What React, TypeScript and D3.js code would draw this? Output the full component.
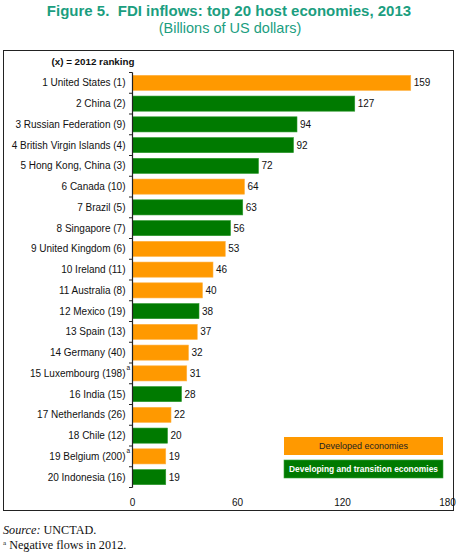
import React from "react";
import * as d3 from "d3";

const economies = [
  "1 United States (1)",
  "2 China (2)",
  "3 Russian Federation (9)",
  "4 British Virgin Islands (4)",
  "5 Hong Kong, China (3)",
  "6 Canada (10)",
  "7 Brazil (5)",
  "8 Singapore (7)",
  "9 United Kingdom (6)",
  "10 Ireland (11)",
  "11 Australia (8)",
  "12 Mexico (19)",
  "13 Spain (13)",
  "14 Germany (40)",
  "15 Luxembourg (198)",
  "16 India (15)",
  "17 Netherlands (26)",
  "18 Chile (12)",
  "19 Belgium (200)",
  "20 Indonesia (16)",
];
const inflows = [159, 127, 94, 92, 72, 64, 63, 56, 53, 46, 40, 38, 37, 32, 31, 28, 22, 20, 19, 19];
// D = developed, T = developing and transition
const groups = ["D", "T", "T", "T", "T", "D", "T", "T", "D", "D", "D", "T", "D", "D", "D", "T", "D", "T", "D", "T"];
const footnoted = ["15 Luxembourg (198)", "19 Belgium (200)"];
const xTicks = [0, 60, 120, 180];

const ORANGE = "#FF9900";
const GREEN = "#007A00";
const TEAL = "#1B9E7F";
const FONT = "Liberation Sans, Arial, sans-serif";
const SERIF = "Liberation Serif, Times New Roman, serif";

const App: React.FC = () => {
  const width = 460;
  const height = 560;

  const x = d3.scaleLinear().domain([0, 180]).range([132.5, 447.5]);
  const y = d3.scaleBand<string>().domain(economies).range([72.5, 487.5]).paddingInner(0.27).paddingOuter(0.135);
  const step = y.step();
  const boundaries = d3.range(economies.length + 1).map((i) => 72.5 + i * step);

  return (
    <svg
      width={width}
      height={height}
      style={{ position: "absolute", left: 0, top: 0, background: "#fff" }}
      fontFamily={FONT}
    >
      {/* title */}
      <text x={229} y={16} textAnchor="middle" fontSize={15} fontWeight="bold" fill={TEAL}>
        Figure 5.{"\u00a0\u00a0"}FDI inflows: top 20 host economies, 2013
      </text>
      <text x={230} y={33} textAnchor="middle" fontSize={14.5} fill={TEAL}>
        (Billions of US dollars)
      </text>

      {/* frame */}
      <rect x={3.5} y={50.5} width={450} height={460} fill="none" stroke="#222" strokeWidth={1} />

      <text x={93} y={65} textAnchor="middle" fontSize={9.8} fontWeight="bold" fill="#111">
        (x) = 2012 ranking
      </text>

      {/* bars */}
      {economies.map((name, i) => {
        const color = groups[i] === "D" ? ORANGE : GREEN;
        const yy = y(name)!;
        return (
          <g key={name}>
            <rect
              x={x(0)}
              y={yy}
              width={x(inflows[i]) - x(0)}
              height={y.bandwidth()}
              fill={color}
              stroke={groups[i] === "D" ? "#FFB347" : "#2E9A2E"}
              strokeWidth={0.6}
            />
            <text
              x={x(inflows[i]) + 3}
              y={yy + y.bandwidth() / 2}
              dy="0.35em"
              fontSize={10}
              fill="#111"
            >
              {inflows[i]}
            </text>
            <text
              x={125.5}
              y={yy + y.bandwidth() / 2}
              dy="0.35em"
              textAnchor="end"
              fontSize={10}
              fill="#111"
            >
              {name}
            </text>
            {footnoted.includes(name) && (
              <text x={126.5} y={yy + y.bandwidth() / 2 - 3} fontSize={6.5} fill="#111">
                a
              </text>
            )}
          </g>
        );
      })}

      {/* category axis */}
      <line x1={x(0)} x2={x(0)} y1={boundaries[0]} y2={boundaries[boundaries.length - 1]} stroke="#222" strokeWidth={1.2} />
      {boundaries.map((b, i) => (
        <line key={i} x1={x(0) - 3.5} x2={x(0)} y1={b} y2={b} stroke="#222" strokeWidth={1} />
      ))}

      {/* value axis labels */}
      {xTicks.map((t) => (
        <text key={t} x={x(t)} y={506} textAnchor="middle" fontSize={10} fill="#111">
          {t}
        </text>
      ))}

      {/* legend */}
      <rect x={284} y={437} width={159} height={18} fill={ORANGE} />
      <text x={363.5} y={446} dy="0.35em" textAnchor="middle" fontSize={9} fill="#222">
        Developed economies
      </text>
      <rect x={284} y={460} width={159} height={18} fill={GREEN} stroke="#3AA33A" strokeWidth={0.6} />
      <text x={363.5} y={469} dy="0.35em" textAnchor="middle" fontSize={8.4} fontWeight="bold" fill="#fff">
        Developing and transition economies
      </text>

      {/* notes */}
      <text x={3} y={534} fontSize={12.2} fontFamily={SERIF} fill="#111">
        <tspan fontStyle="italic">Source:</tspan> UNCTAD.
      </text>
      <text x={3} y={549} fontSize={12.2} fontFamily={SERIF} fill="#111">
        <tspan fontSize={7} dy={-4.5}>a</tspan>
        <tspan dy={4.5}> Negative flows in 2012.</tspan>
      </text>
    </svg>
  );
};

export default App;
